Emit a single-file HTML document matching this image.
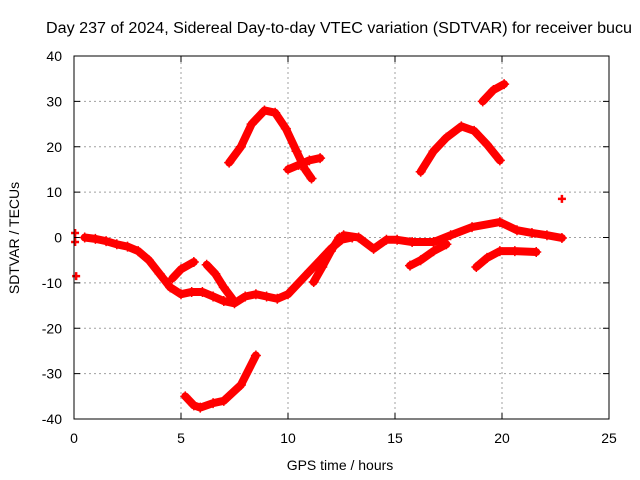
<!DOCTYPE html>
<html><head><meta charset="utf-8"><style>
body{margin:0;background:#fff}
svg{display:block;font-family:"Liberation Sans",sans-serif}
</style></head><body>
<svg id="chart" width="640" height="480" viewBox="0 0 640 480">
<text x="46" y="33" font-size="15.5" textLength="586" lengthAdjust="spacingAndGlyphs">Day 237 of 2024, Sidereal Day-to-day VTEC variation (SDTVAR) for receiver bucu</text>
<text x="340" y="470" font-size="14" text-anchor="middle">GPS time / hours</text>
<text transform="translate(19,238) rotate(-90)" font-size="14" text-anchor="middle">SDTVAR / TECUs</text>
<g id="grid"></g><g id="ticks"></g><g id="marks"></g>
<rect x="74" y="56" width="535" height="363" fill="none" stroke="#000" stroke-width="1"/>
</svg>
<script>
const xTicks=[0,5,10,15,20,25];
const yTicks=[-40,-30,-20,-10,0,10,20,30,40];
const trackAh=[0.5,1,1.5,2,2.5,3,3.5,4,4.5,5,5.5,6,6.5,7,7.5,8,8.5,9,9.5,10,10.5,11,11.5,12,12.5,13];
const trackAv=[0,-0.3,-0.8,-1.5,-2,-3,-5,-8,-11,-12.5,-12,-12,-13,-14,-14.5,-13,-12.5,-13,-13.5,-12.5,-10,-7.5,-5,-2.5,-0.5,0];
const trackBh=[4.6,5,5.6];
const trackBv=[-9,-7,-5.4];
const trackCh=[6.2,6.6,7,7.4];
const trackCv=[-6,-8,-11,-13.5];
const trackDh=[11.2,11.6,12,12.4];
const trackDv=[-9.8,-6.5,-3,0];
const trackEh=[12.6,13.3,14,14.6,15.1,15.8,16.8,17.6,18.6,19.9,20.7,21.4,22.1,22.8];
const trackEv=[0.5,0,-2.5,-0.5,-0.5,-1,-1,0.5,2.3,3.4,1.6,1,0.5,-0.1];
const trackFh=[15.7,16.2,16.8,17.4];
const trackFv=[-6.2,-5,-3,-1.5];
const trackGh=[18.8,19.3,19.9,20.6,21.6];
const trackGv=[-6.5,-4.5,-3,-3,-3.2];
const trackHh=[7.25,7.8,8.3,8.9,9.4,9.9,10.4,10.8,11.1];
const trackHv=[16.5,20,25,28,27.5,24,19,15,13];
const trackIh=[10,10.5,11,11.5];
const trackIv=[15,16,17,17.5];
const trackJh=[16.2,16.8,17.4,18.1,18.7,19.3,19.9];
const trackJv=[14.5,19,22,24.5,23.5,20.5,17];
const trackKh=[19.1,19.6,20.1];
const trackKv=[30,32.5,33.8];
const trackLh=[5.2,5.6,5.9,6.5,7,7.8,8.5];
const trackLv=[-35,-37,-37.5,-36.5,-36,-32.5,-26];
const dotsH=[0.05,0.05,0.1,22.8];
const dotsV=[1,-1,-8.5,8.5];
const tracks=[[trackAh,trackAv],[trackBh,trackBv],[trackCh,trackCv],[trackDh,trackDv],[trackEh,trackEv],[trackFh,trackFv],[trackGh,trackGv],[trackHh,trackHv],[trackIh,trackIv],[trackJh,trackJv],[trackKh,trackKv],[trackLh,trackLv]];
const X0=74,X1=609,Y0=419,Y1=56;
const xs=h=>X0+(h/25)*(X1-X0);
const ys=v=>Y0-((v+40)/80)*(Y0-Y1);
const NS="http://www.w3.org/2000/svg";
function mk(tag,a,parent){const e=document.createElementNS(NS,tag);for(const k in a)e.setAttribute(k,a[k]);parent.appendChild(e);return e;}
const grid=document.getElementById('grid'),ticks=document.getElementById('ticks'),marks=document.getElementById('marks');
xTicks.forEach(t=>{const x=xs(t);
 if(t>0&&t<25){const g=mk('line',{x1:x,x2:x,y1:Y0,y2:Y1,stroke:'#a0a0a0','stroke-dasharray':'2,3'},grid);
 
 }
 const tl=mk('text',{x:x,y:Y0+24,'font-size':14,'text-anchor':'middle'},ticks);tl.textContent=t;
 
 
 mk('line',{x1:x,x2:x,y1:Y0,y2:Y0-6,stroke:'#000'},ticks);
 mk('line',{x1:x,x2:x,y1:Y1,y2:Y1+6,stroke:'#000'},ticks);});
yTicks.forEach(t=>{const y=ys(t);
 if(t>-40&&t<40){const g=mk('line',{x1:X0,x2:X1,y1:y,y2:y,stroke:'#a0a0a0','stroke-dasharray':'2,3'},grid);
 
 }
 const tl=mk('text',{x:X0-12,y:y+5,'font-size':14,'text-anchor':'end'},ticks);tl.textContent=t;
 
 
 mk('line',{x1:X0,x2:X0+6,y1:y,y2:y,stroke:'#000'},ticks);
 mk('line',{x1:X1,x2:X1-6,y1:y,y2:y,stroke:'#000'},ticks);});
tracks.forEach((tr,i)=>{const [H,V]=tr;
 const p=mk('polyline',{points:H.map((h,j)=>xs(h)+','+ys(V[j])).join(' '),fill:'none',stroke:'#ff0000','stroke-width':8,'stroke-linejoin':'round','stroke-linecap':'round'},marks);
 
 
 H.forEach((h,j)=>{const x=xs(h),y=ys(V[j]);
  mk('path',{d:`M${x-5},${y}H${x+5}M${x},${y-5}V${y+5}`,stroke:'#ff0000','stroke-width':1.5},marks);});});
dotsH.forEach((h,j)=>{const x=xs(h),y=ys(dotsV[j]);
 const d=mk('path',{d:`M${x-4},${y}H${x+4}M${x},${y-4}V${y+4}`,stroke:'#ff0000','stroke-width':2.5},marks);
 
 });
</script>
</body></html>
